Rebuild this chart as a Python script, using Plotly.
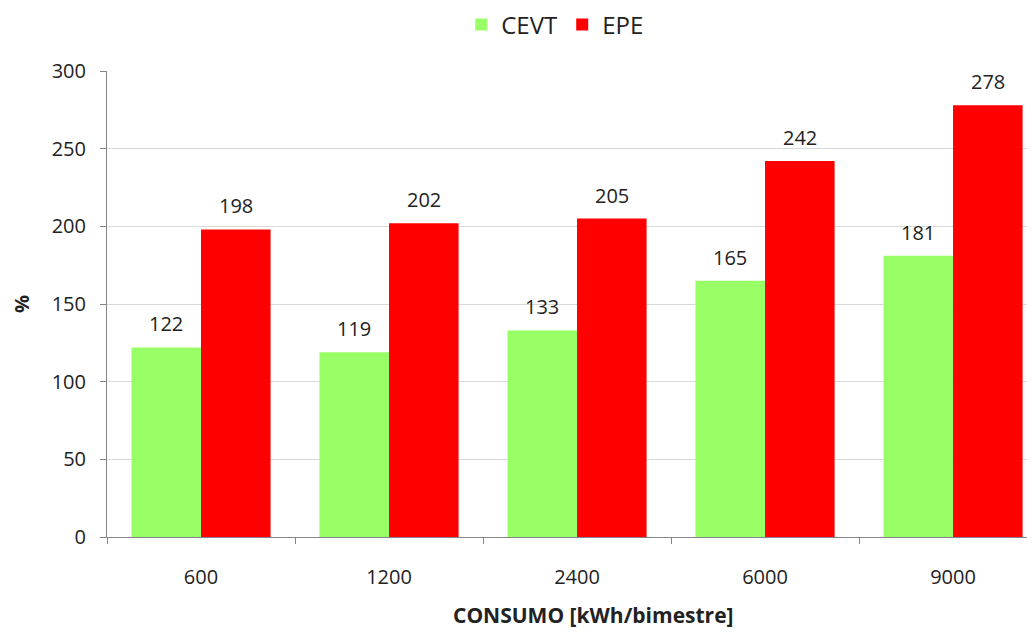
import plotly.graph_objects as go

consumo = ["600", "1200", "2400", "6000", "9000"]
cevt = [122, 119, 133, 165, 181]
epe = [198, 202, 205, 242, 278]

font_family = "Open Sans, Noto Sans, sans-serif"
label_color = "#222222"

fig = go.Figure()

# CEVT
fig.add_trace(
    go.Bar(
        x=consumo,
        y=cevt,
        name="CEVT",
        marker=dict(color="#99FF66", line=dict(width=0)),
    )
)

# EPE
fig.add_trace(
    go.Bar(
        x=consumo,
        y=epe,
        name="EPE",
        marker=dict(color="#FF0000", line=dict(width=0)),
    )
)

# etiquetas de valor sobre las barras (x = índice de la categoría)
for shift, serie in ((-35, cevt), (35, epe)):
    for i, val in enumerate(serie):
        fig.add_annotation(
            x=i,
            y=val,
            text=str(val),
            showarrow=False,
            xshift=shift,
            yanchor="bottom",
            yshift=8,
            font=dict(size=20, color=label_color),
        )

# título del eje x
fig.add_annotation(
    text="<b>CONSUMO [kWh/bimestre]</b>",
    xref="paper",
    yref="paper",
    x=0.524,
    y=-0.167,
    xanchor="center",
    yanchor="middle",
    showarrow=False,
    font=dict(size=21, color=label_color),
)

fig.update_layout(
    width=1027,
    height=624,
    barmode="group",
    bargap=0.26,
    bargroupgap=0,
    plot_bgcolor="white",
    paper_bgcolor="white",
    font=dict(family=font_family, size=20, color=label_color),
    margin=dict(l=99, r=0, t=63, b=95),
    legend=dict(
        orientation="h",
        x=0.483,
        xanchor="center",
        xref="paper",
        yref="container",
        y=0.973,
        yanchor="middle",
        font=dict(size=24),
        itemsizing="constant",
    ),
    xaxis=dict(
        type="category",
        range=[-0.5, 4.436],
        automargin=False,
        showline=True,
        linecolor="#868686",
        linewidth=1,
        ticks="outside",
        tickson="boundaries",
        ticklen=6,
        tickcolor="#868686",
        ticklabelstandoff=22,
        showgrid=False,
    ),
    yaxis=dict(
        title=dict(text="<b>%</b>", font=dict(size=20), standoff=40),
        automargin=False,
        range=[0, 300],
        dtick=50,
        showline=True,
        linecolor="#868686",
        linewidth=1,
        ticks="outside",
        ticklen=6,
        tickcolor="#868686",
        ticklabelstandoff=10,
        gridcolor="#d9d9d9",
        zeroline=False,
    ),
)

fig.write_html("out.html")
